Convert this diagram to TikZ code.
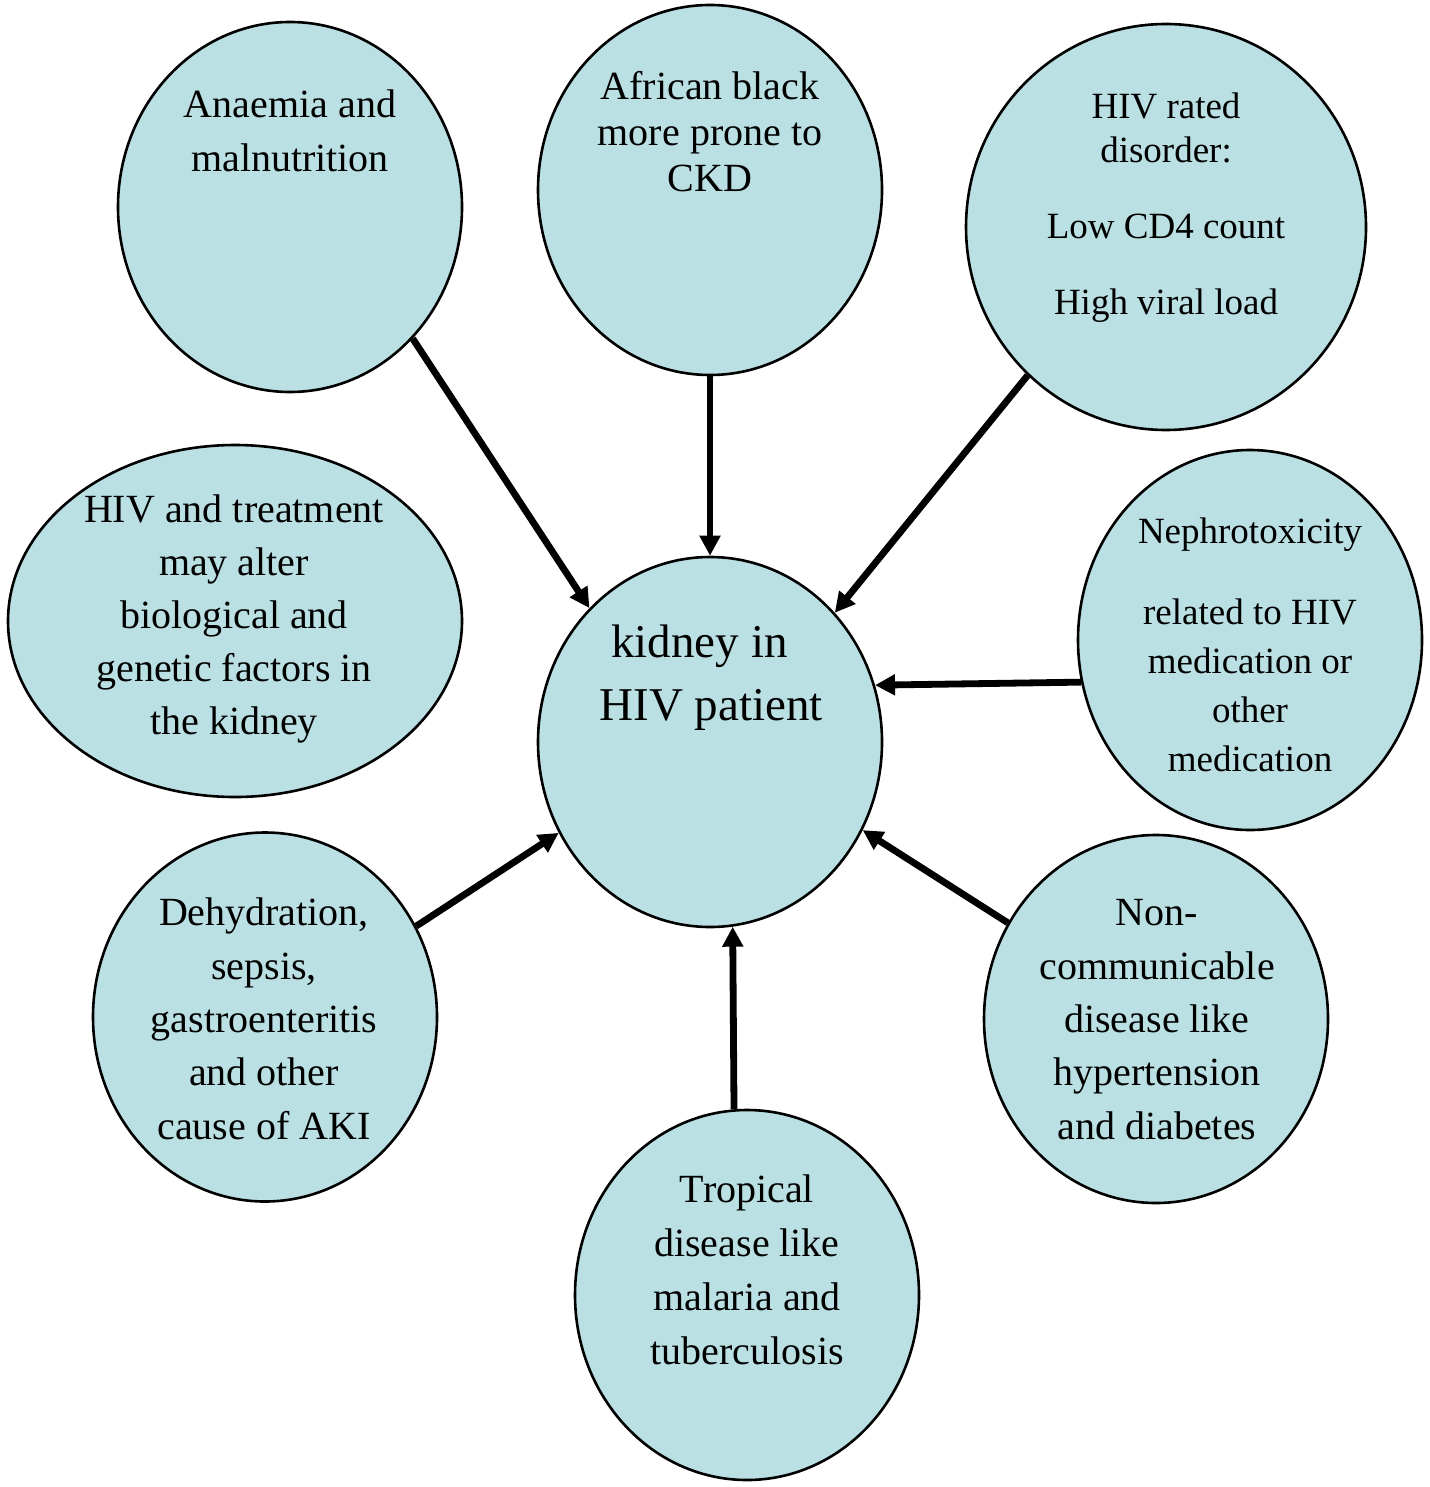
\documentclass[tikz,border=0pt]{standalone}
\usepackage{fontspec}
\setmainfont{Liberation Serif}
\usetikzlibrary{shapes.geometric,arrows.meta}
\definecolor{bub}{RGB}{186,224,227}
\tikzset{
  bubble/.style={ellipse, draw=black, line width=2.6pt, fill=bub, inner sep=0pt},
  txt/.style={align=center, inner sep=0pt, anchor=base},
  arr/.style={-{Triangle[length=20pt,width=20pt]}, line width=6.8pt},
}
\newcommand{\fs}[2]{\fontsize{#1}{#2}\selectfont}
\begin{document}
\begin{tikzpicture}[x=1pt,y=-1pt]
\useasboundingbox (0,0) rectangle (1429,1487);
% bubbles
\node[bubble, minimum width=344pt, minimum height=370pt] (anaemia) at (290,207) {};
\node[bubble, minimum width=344pt, minimum height=370pt] (african) at (710,190) {};
\node[bubble, minimum width=400pt, minimum height=406pt] (hivrated) at (1166,227) {};
\node[bubble, minimum width=454pt, minimum height=352pt] (treat) at (235,621) {};
\node[bubble, minimum width=344pt, minimum height=370pt] (kidney) at (710,742) {};
\node[bubble, minimum width=344pt, minimum height=380pt] (nephro) at (1250,640) {};
\node[bubble, minimum width=344pt, minimum height=369pt] (dehyd) at (265,1017) {};
\node[bubble, minimum width=344pt, minimum height=368pt] (noncomm) at (1156,1019) {};
\node[bubble, minimum width=344pt, minimum height=370pt] (tropical) at (747,1295) {};
% texts (anchored at the baseline of their last line)
\node[txt, font=\fs{40}{54}] (t1) at (290,172) {Anaemia and\\malnutrition};
\node[txt, font=\fs{40}{46}] (t2) at (710,192) {African black\\more prone to\\CKD};
\node[txt, font=\fs{37}{44}] (t3) at (1166,314) {HIV rated\\disorder:\\[32pt]Low CD4 count\\[31pt]High viral load};
\node[txt, font=\fs{40}{53}] (t4) at (234,734) {HIV and treatment\\may alter\\biological and\\genetic factors in\\the kidney};
\node[txt, font=\fs{47}{63}] (t5) at (711,720) {kidney in\hspace*{23pt}\\HIV patient};
\node[txt, font=\fs{37}{49}] (t6) at (1250,771) {Nephrotoxicity\\[32pt]related to HIV\\medication or\\other\\medication};
\node[txt, font=\fs{40}{53.3}] (t7) at (264,1139) {Dehydration,\\sepsis,\\gastroenteritis\\and other\\cause of AKI};
\node[txt, font=\fs{40}{53.3}] (t8) at (1157,1139) {Non-\\communicable\\disease like\\hypertension\\and diabetes};
\node[txt, font=\fs{40}{53.7}] (t9) at (747,1364) {Tropical\\disease like\\malaria and\\tuberculosis};
% arrows
\draw[arr] (anaemia.-47) -- (kidney.132.7);
\draw[arr] (african.south) -- (kidney.north);
\draw[arr] (hivrated.-133.6) -- (kidney.46.8);
\draw[arr] (nephro.194.8) -- (kidney.19);
\draw[arr] (dehyd.31.5) -- (kidney.211.6);
\draw[arr] (noncomm.147.8) -- (kidney.-30.7);
\draw[arr] (tropical.94.6) -- (kidney.-83.1);
\end{tikzpicture}
\end{document}
